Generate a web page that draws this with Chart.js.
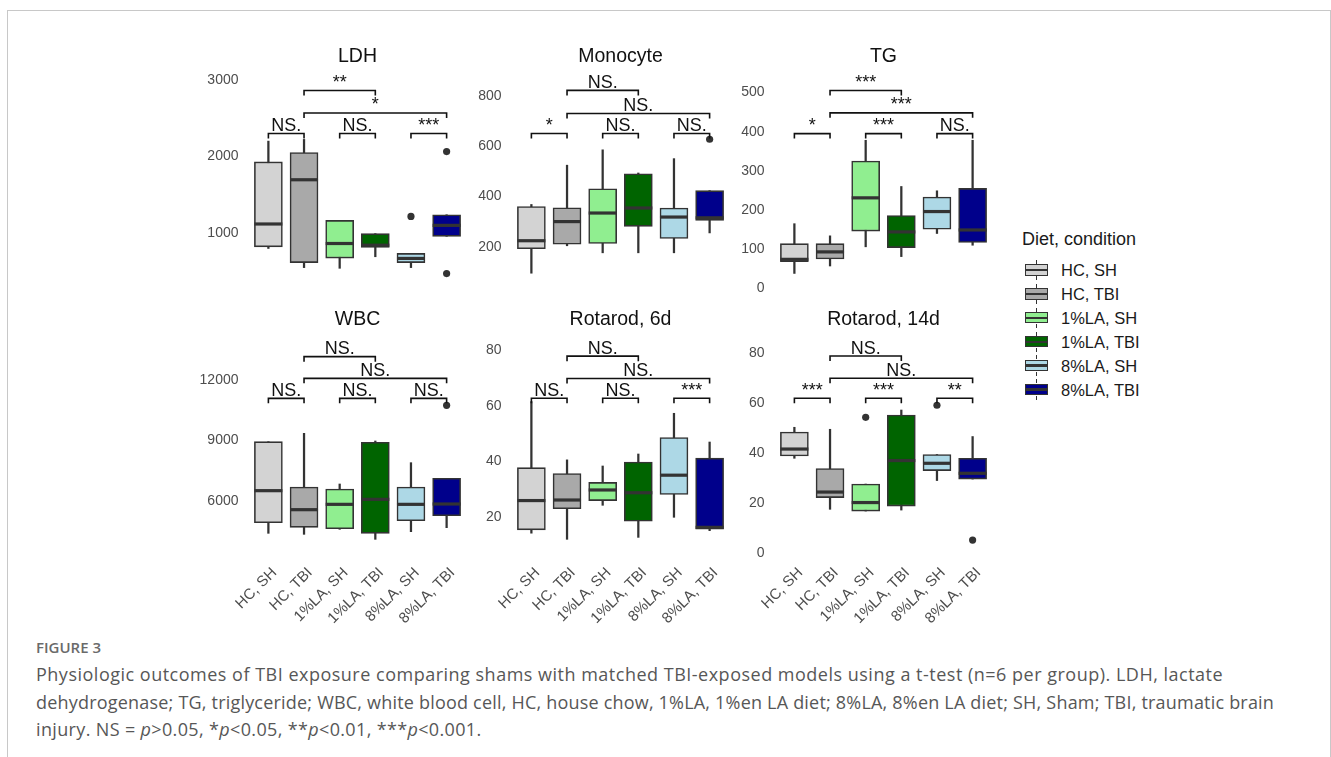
<!DOCTYPE html>
<html lang="en">
<head>
<meta charset="utf-8">
<title>Figure 3</title>
<script src="https://cdn.jsdelivr.net/npm/chart.js@4.4.1/dist/chart.umd.min.js"></script>
<style>
  html, body { margin: 0; padding: 0; background: #fff; }
  body { position: relative; width: 1331px; height: 757px; overflow: hidden; font-family: "Liberation Sans", Arial, sans-serif; }
  #marco { position: absolute; left: 7px; top: 10px; width: 1322px; height: 800px; border: 1px solid #c8c8c8; }
  canvas.panel { position: absolute; }
  .ley-titulo { position: absolute; left: 1022px; top: 228px; font-size: 18px; line-height: 22px; color: #1a1a1a; white-space: nowrap; }
  .ley-item { position: absolute; left: 1025px; height: 24px; line-height: 24px; font-size: 16.5px; color: #1a1a1a; white-space: nowrap; padding-left: 36px; }
  .ley-key { position: absolute; left: 0; top: 6.4px; width: 23.3px; height: 11.3px; box-sizing: border-box; border: 1.5px solid #333; }
  .ley-key::before, .ley-key::after { content: ""; position: absolute; left: 50%; margin-left: -0.75px; width: 1.5px; height: 4px; background: #333; }
  .ley-key::before { top: -5.5px; }
  .ley-key::after { bottom: -5.5px; }
  .ley-key span { position: absolute; left: 0; right: 0; top: 50%; margin-top: -1.2px; height: 2.4px; background: #333; }
  #figura { position: absolute; left: 36px; top: 637px; font-family: "Open Sans", sans-serif; font-weight: 600; font-size: 15px; line-height: 20px; color: #6a6a6a; }
  #pie { position: absolute; left: 36px; top: 661px; font-family: "Open Sans", sans-serif; font-size: 18px; line-height: 27.7px; color: #575757; white-space: nowrap; }
  #pie .l1 { letter-spacing: 0.5px; }
  #pie .l2 { letter-spacing: 0.2px; }
  #pie .l3 { letter-spacing: 0.35px; }
</style>
</head>
<body>
<div id="marco"></div>

<canvas id="graficoLDH" class="panel" width="285" height="270" style="left:187px; top:40px;"></canvas>
<canvas id="graficoMonocyte" class="panel" width="285" height="270" style="left:450px; top:40px;"></canvas>
<canvas id="graficoTG" class="panel" width="285" height="270" style="left:713px; top:40px;"></canvas>
<canvas id="graficoWBC" class="panel" width="285" height="340" style="left:187px; top:303px;"></canvas>
<canvas id="graficoRot6" class="panel" width="285" height="340" style="left:450px; top:303px;"></canvas>
<canvas id="graficoRot14" class="panel" width="285" height="340" style="left:713px; top:303px;"></canvas>

<div id="leyenda"></div>

<div id="figura">FIGURE 3</div>
<div id="pie"><span class="l1">Physiologic outcomes of TBI exposure comparing shams with matched TBI-exposed models using a t-test (n=6 per group). LDH, lactate</span><br><span class="l2">dehydrogenase; TG, triglyceride; WBC, white blood cell, HC, house chow, 1%LA, 1%en LA diet; 8%LA, 8%en LA diet; SH, Sham; TBI, traumatic brain</span><br><span class="l3">injury. NS = <i>p</i>&gt;0.05, *<i>p</i>&lt;0.05, **<i>p</i>&lt;0.01, ***<i>p</i>&lt;0.001.</span></div>

<script>
// Grupos (dieta, condición) y colores de relleno
const categorias = ["HC, SH", "HC, TBI", "1%LA, SH", "1%LA, TBI", "8%LA, SH", "8%LA, TBI"];
const colores = ["#d3d3d3", "#a9a9a9", "#90ee90", "#006400", "#add8e6", "#00008b"];

// LDH
const ldhMin = [797, 547, 538, 689, 547, 956];
const ldhQ1 = [819, 612, 671, 810, 612, 956];
const ldhMediana = [1117, 1695, 862, 840, 667, 1099];
const ldhQ3 = [1928, 2050, 1164, 991, 732, 1238];
const ldhMax = [2200, 2222, 1164, 991, 732, 1238];
const ldhAtipicos = [[5, 1216], [6, 2063], [6, 469]];
const ldhTicks = [1000, 2000, 3000];
const ldhSignif = [[1, 2, 2300, "NS."], [3, 4, 2300, "NS."], [5, 6, 2300, "***"], [2, 6, 2568, "*"], [2, 4, 2861, "**"]];

// Monocyte
const monoMin = [95, 204, 176, 176, 176, 255];
const monoQ1 = [192, 210, 213, 281, 233, 305];
const monoMediana = [224, 300, 334, 354, 318, 315];
const monoQ3 = [360, 355, 430, 490, 354, 423];
const monoMax = [368, 524, 585, 493, 550, 423];
const monoAtipicos = [[6, 627]];
const monoTicks = [200, 400, 600, 800];
const monoSignif = [[1, 2, 650, "*"], [3, 4, 650, "NS."], [5, 6, 650, "NS."], [2, 6, 729, "NS."], [2, 4, 821, "NS."]];

// TG
const tgMin = [38, 57, 106, 81, 140, 110];
const tgQ1 = [68, 75, 146, 104, 151, 117];
const tgMediana = [74, 93, 231, 144, 196, 149];
const tgQ3 = [114, 114, 325, 186, 233, 255];
const tgMax = [165, 134, 378, 260, 249, 378];
const tgAtipicos = [];
const tgTicks = [0, 100, 200, 300, 400, 500];
const tgSignif = [[1, 2, 395, "*"], [3, 4, 395, "***"], [5, 6, 395, "NS."], [2, 6, 448, "***"], [2, 4, 505, "***"]];

// WBC
const wbcMin = [4376, 4326, 4575, 4077, 4458, 4657];
const wbcQ1 = [4906, 4674, 4608, 4376, 5005, 5254];
const wbcMediana = [6497, 5552, 5817, 6066, 5817, 5834];
const wbcQ3 = [8933, 6679, 6580, 8900, 6679, 7110];
const wbcMax = [8933, 9349, 6829, 8967, 7889, 7110];
const wbcAtipicos = [[6, 10740]];
const wbcTicks = [6000, 9000, 12000];
const wbcSignif = [[1, 2, 11088, "NS."], [3, 4, 11088, "NS."], [5, 6, 11088, "NS."], [2, 6, 12083, "NS."], [2, 4, 13160, "NS."]];

// Rotarod, 6d
const rot6Min = [14.3, 12.1, 24.3, 12.8, 20.0, 15.2];
const rot6Q1 = [15.5, 23.1, 26.0, 18.6, 28.2, 15.7];
const rot6Mediana = [26.0, 26.2, 29.8, 28.8, 35.1, 16.4];
const rot6Q3 = [37.8, 35.7, 32.5, 39.8, 48.6, 41.2];
const rot6Max = [61.5, 40.6, 38.4, 42.7, 57.3, 47.0];
const rot6Atipicos = [];
const rot6Ticks = [20, 40, 60, 80];
const rot6Signif = [[1, 2, 62.7, "NS."], [3, 4, 62.7, "NS."], [5, 6, 62.7, "***"], [2, 6, 69.8, "NS."], [2, 4, 77.8, "NS."]];

// Rotarod, 14d
const rot14Min = [38.0, 17.6, 16.9, 17.3, 29.1, 29.7];
const rot14Q1 = [38.9, 22.3, 16.9, 18.9, 33.1, 29.7];
const rot14Mediana = [41.7, 24.5, 20.3, 37.1, 36.0, 32.0];
const rot14Q3 = [48.5, 33.9, 27.7, 55.3, 39.5, 38.0];
const rot14Max = [50.4, 49.6, 27.7, 57.3, 39.5, 46.7];
const rot14Atipicos = [[3, 54.4], [5, 59.2], [6, 5.3]];
const rot14Ticks = [0, 20, 40, 60, 80];
const rot14Signif = [[1, 2, 62.0, "***"], [3, 4, 62.0, "***"], [5, 6, 62.0, "**"], [2, 6, 70.0, "NS."], [2, 4, 78.9, "NS."]];

Chart.defaults.font.family = '"Liberation Sans", Arial, sans-serif';
Chart.defaults.animation = false;

// Dibuja medianas y corchetes de significancia sobre las cajas
function pluginExtras(mediana, signif) {
  return {
    id: "extras",
    afterDatasetsDraw(chart) {
      const ctx = chart.ctx;
      const xs = chart.scales.x;
      const ys = chart.scales.y;
      const cajas = chart.getDatasetMeta(1).data;
      ctx.save();
      ctx.strokeStyle = "#333";
      ctx.lineWidth = 3.2;
      cajas.forEach((caja, i) => {
        const { x, width } = caja.getProps(["x", "width"], true);
        const py = ys.getPixelForValue(mediana[i]);
        ctx.beginPath();
        ctx.moveTo(x - width / 2, py);
        ctx.lineTo(x + width / 2, py);
        ctx.stroke();
      });
      ctx.strokeStyle = "#111";
      ctx.fillStyle = "#111";
      ctx.lineWidth = 1.6;
      ctx.font = '18px "Liberation Sans", Arial, sans-serif';
      ctx.textAlign = "center";
      ctx.textBaseline = "alphabetic";
      signif.forEach(([a, b, v, etiqueta]) => {
        const x1 = xs.getPixelForValue(a);
        const x2 = xs.getPixelForValue(b);
        const py = ys.getPixelForValue(v);
        ctx.beginPath();
        ctx.moveTo(x1, py + 5);
        ctx.lineTo(x1, py);
        ctx.lineTo(x2, py);
        ctx.lineTo(x2, py + 5);
        ctx.stroke();
        ctx.fillText(etiqueta, (x1 + x2) / 2, py - 2.5);
      });
      ctx.restore();
    },
  };
}

function crearPanel(id, titulo, d, yMin, yMax, mostrarX) {
  const ctx = document.getElementById(id).getContext("2d");
  new Chart(ctx, {
    type: "bar",
    data: {
      datasets: [
        {
          type: "scatter",
          data: d.atipicos.map(([c, v]) => ({ x: c, y: v })),
          pointRadius: 3.6,
          pointBackgroundColor: "#333",
          pointBorderWidth: 0,
          order: 0,
        },
        {
          type: "bar",
          data: d.q1.map((v, i) => ({ x: i + 1, y: [v, d.q3[i]] })),
          backgroundColor: colores,
          borderColor: "#333",
          borderWidth: 1.6,
          borderSkipped: false,
          barThickness: 28,
          grouped: false,
          order: 1,
        },
        {
          type: "bar",
          data: d.min.map((v, i) => ({ x: i + 1, y: [v, d.max[i]] })),
          backgroundColor: "#333",
          barThickness: 1.6,
          grouped: false,
          order: 2,
        },
      ],
    },
    options: {
      responsive: false,
      events: [],
      layout: { padding: { left: 0, right: 4, top: 0, bottom: 0 } },
      plugins: {
        legend: { display: false },
        tooltip: { enabled: false },
        title: {
          display: true,
          text: titulo,
          fullSize: false,
          color: "#111",
          font: { size: 19.5, weight: "normal" },
          padding: { top: 5, bottom: 1.6 },
        },
      },
      scales: {
        x: {
          type: "linear",
          min: 0.4,
          max: 6.6,
          offset: false,
          grid: { display: false, drawTicks: false },
          border: { display: false },
          afterBuildTicks: (eje) => {
            eje.ticks = categorias.map((c, i) => ({ value: i + 1 }));
          },
          afterFit: (eje) => {
            eje.height = mostrarX ? 85 : 15;
          },
          ticks: {
            display: mostrarX,
            autoSkip: false,
            minRotation: 45,
            maxRotation: 45,
            padding: 6,
            labelOffset: 6,
            color: "#4d4d4d",
            font: { size: 15 },
            callback: (v, i) => categorias[i],
          },
        },
        y: {
          type: "linear",
          min: yMin,
          max: yMax,
          beginAtZero: false,
          grid: { display: false, drawTicks: false },
          border: { display: false },
          afterBuildTicks: (eje) => {
            eje.ticks = d.ticks.map((v) => ({ value: v }));
          },
          afterFit: (eje) => {
            eje.width = 60;
          },
          ticks: {
            padding: 8.5,
            color: "#4d4d4d",
            font: { size: 14 },
            callback: (v) => String(v),
          },
        },
      },
    },
    plugins: [pluginExtras(d.mediana, d.signif)],
  });
}

crearPanel("graficoLDH", "LDH",
  { min: ldhMin, q1: ldhQ1, mediana: ldhMediana, q3: ldhQ3, max: ldhMax, atipicos: ldhAtipicos, ticks: ldhTicks, signif: ldhSignif },
  214, 3129, false);
crearPanel("graficoMonocyte", "Monocyte",
  { min: monoMin, q1: monoQ1, mediana: monoMediana, q3: monoQ3, max: monoMax, atipicos: monoAtipicos, ticks: monoTicks, signif: monoSignif },
  16, 902, false);
crearPanel("graficoTG", "TG",
  { min: tgMin, q1: tgQ1, mediana: tgMediana, q3: tgQ3, max: tgMax, atipicos: tgAtipicos, ticks: tgTicks, signif: tgSignif },
  -12.2, 557.4, false);
crearPanel("graficoWBC", "WBC",
  { min: wbcMin, q1: wbcQ1, mediana: wbcMediana, q3: wbcQ3, max: wbcMax, atipicos: wbcAtipicos, ticks: wbcTicks, signif: wbcSignif },
  3149, 14337, true);
crearPanel("graficoRot6", "Rotarod, 6d",
  { min: rot6Min, q1: rot6Q1, mediana: rot6Mediana, q3: rot6Q3, max: rot6Max, atipicos: rot6Atipicos, ticks: rot6Ticks, signif: rot6Signif },
  5.4, 86.1, true);
crearPanel("graficoRot14", "Rotarod, 14d",
  { min: rot14Min, q1: rot14Q1, mediana: rot14Mediana, q3: rot14Q3, max: rot14Max, atipicos: rot14Atipicos, ticks: rot14Ticks, signif: rot14Signif },
  -1.87, 88.1, true);

// Leyenda
const leyenda = document.getElementById("leyenda");
const tituloLey = document.createElement("div");
tituloLey.className = "ley-titulo";
tituloLey.textContent = "Diet, condition";
leyenda.appendChild(tituloLey);
categorias.forEach((cat, i) => {
  const item = document.createElement("div");
  item.className = "ley-item";
  item.style.top = (258 + 23.9 * i) + "px";
  const key = document.createElement("div");
  key.className = "ley-key";
  key.style.background = colores[i];
  key.appendChild(document.createElement("span"));
  item.appendChild(key);
  item.appendChild(document.createTextNode(cat));
  leyenda.appendChild(item);
});
</script>
</body>
</html>
